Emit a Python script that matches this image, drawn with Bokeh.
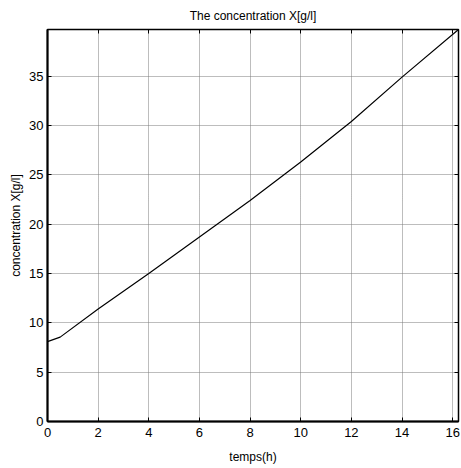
from bokeh.plotting import figure
from bokeh.models import LinearAxis, Range1d, FixedTicker
from bokeh.embed import file_html
from bokeh.resources import INLINE

# Biomass concentration over time
temps_h = [0.0, 0.5, 2.0, 4.0, 6.0, 8.0, 10.0, 12.0, 14.0, 16.23]
concentration = [8.1, 8.55, 11.4, 15.0, 18.7, 22.4, 26.3, 30.4, 34.9, 39.73]

x_ticks = [0, 2, 4, 6, 8, 10, 12, 14, 16]
y_ticks = [0, 5, 10, 15, 20, 25, 30, 35]

FONT = "Liberation Sans"

p = figure(
    frame_width=411, frame_height=392,
    x_range=Range1d(0, 16.23), y_range=Range1d(0, 39.73),
    output_backend="svg", toolbar_location=None,
    min_border_left=47, min_border_right=2, min_border_top=29, min_border_bottom=46,
    background_fill_color="white", border_fill_color="white",
)

p.title.text = "The concentration X[g/l]"
p.title.align = "center"
p.title.vertical_align = "top"
p.title.text_font = FONT
p.title.text_font_size = "12px"
p.title.text_font_style = "normal"
p.title.text_color = "black"
p.title.standoff = 9

p.outline_line_color = "black"
p.outline_line_width = 1.5

for ax, ticks in ((p.xaxis[0], x_ticks), (p.yaxis[0], y_ticks)):
    ax.ticker = FixedTicker(ticks=ticks)
    ax.major_tick_in = 4
    ax.major_tick_out = 0
    ax.minor_tick_line_color = None
    ax.axis_line_width = 2
    ax.axis_line_color = "black"
    ax.major_tick_line_color = "black"
    ax.major_label_text_font = FONT
    ax.major_label_text_font_size = "13px"
    ax.major_label_text_color = "black"
    ax.axis_label_text_font = FONT
    ax.axis_label_text_font_size = "12px"
    ax.axis_label_text_font_style = "normal"
    ax.axis_label_text_color = "black"

p.xaxis.axis_label = "temps(h)"
p.yaxis.axis_label = "concentration X[g/l]"
p.xaxis.major_label_standoff = 6
p.yaxis.major_label_standoff = 4
p.xaxis.axis_label_standoff = 10
p.yaxis.axis_label_standoff = 3

# Inward ticks on the top and right edges of the box, without labels
for side, ticks in (("above", x_ticks), ("right", y_ticks)):
    extra = LinearAxis(ticker=FixedTicker(ticks=ticks))
    extra.major_tick_in = 4
    extra.major_tick_out = 0
    extra.minor_tick_line_color = None
    extra.major_label_overrides = {t: "" for t in ticks}
    extra.major_label_standoff = 0
    extra.axis_line_color = "black"
    extra.major_tick_line_color = "black"
    p.add_layout(extra, side)

p.xgrid.ticker = FixedTicker(ticks=x_ticks)
p.ygrid.ticker = FixedTicker(ticks=y_ticks)
p.grid.grid_line_color = "#7a7a7a"
p.grid.grid_line_dash = "1 1"
p.grid.grid_line_width = 1

p.line(temps_h, concentration, line_color="black", line_width=1.2)

open("out.html", "w").write(file_html(p, INLINE))
